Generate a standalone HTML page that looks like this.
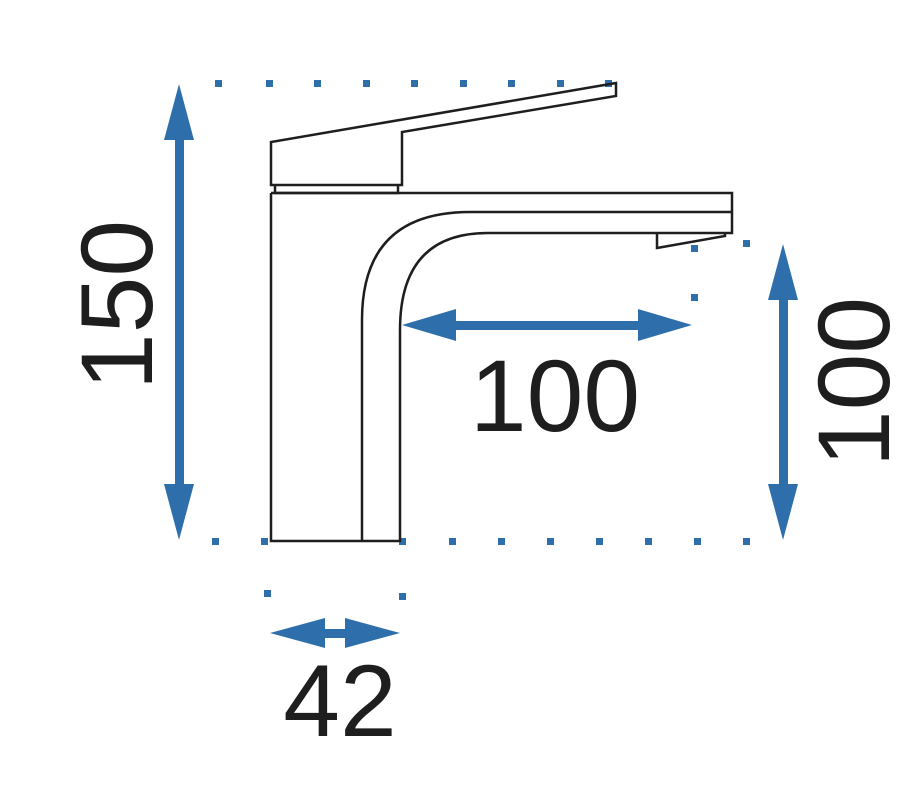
<!DOCTYPE html>
<html><head><style>
body{margin:0;background:#fff;}
svg{display:block}
text{font-family:"Liberation Sans",sans-serif;fill:#1e1e1e;font-size:102px;}
</style></head><body>
<svg width="913" height="801" viewBox="0 0 913 801" xmlns="http://www.w3.org/2000/svg">
<g fill="#2e6fab">
<rect x="215" y="80" width="7" height="7"/><rect x="266" y="80" width="7" height="7"/><rect x="314" y="80" width="7" height="7"/><rect x="363" y="80" width="7" height="7"/><rect x="411" y="80" width="7" height="7"/><rect x="460" y="80" width="7" height="7"/><rect x="508" y="80" width="7" height="7"/><rect x="557" y="80" width="7" height="7"/><rect x="605" y="80" width="7" height="7"/>
<rect x="212" y="538" width="7" height="7"/><rect x="261" y="538" width="7" height="7"/><rect x="399" y="538" width="7" height="7"/><rect x="449" y="538" width="7" height="7"/><rect x="498" y="538" width="7" height="7"/><rect x="547" y="538" width="7" height="7"/><rect x="596" y="538" width="7" height="7"/><rect x="645" y="538" width="7" height="7"/><rect x="694" y="538" width="7" height="7"/><rect x="743" y="538" width="7" height="7"/>
<rect x="264" y="590" width="7" height="7"/><rect x="399" y="593" width="7" height="7"/>
<rect x="691" y="245" width="7" height="7"/><rect x="743" y="240" width="7" height="7"/><rect x="691" y="294" width="7" height="7"/>
<rect x="175" y="130" width="9" height="370"/>
<polygon points="179,84 164,140 194,140"/><polygon points="179,540 164,484 194,484"/>
<rect x="779" y="290" width="9" height="210"/>
<polygon points="783,244 768,300 798,300"/><polygon points="783,540 768,484 798,484"/>
<rect x="450" y="321" width="200" height="9"/>
<polygon points="402,325 456,309 456,341"/><polygon points="692,325 638,309 638,341"/>
<rect x="320" y="629" width="40" height="9"/>
<polygon points="270,633 325,618 325,648"/><polygon points="400,633 345,618 345,648"/>
</g>
<g fill="none" stroke="#1e1e1e" stroke-width="2.5">
<path d="M271,185 V142 L616,83 L616,96 L402,132 V185 Z"/>
<path d="M275,185 V193 H398 V185"/>
<path d="M271,193 V541 H400 V330"/>
<path d="M271,193 H732 V233 H488 Q400,233 400,330"/>
<path d="M362,541 V320 Q362,212 470,212 H732"/>
<path d="M657,233 V248 L725,236 V233"/>
</g>
<text x="0" y="0" text-anchor="middle" transform="translate(152,305) rotate(-90)">150</text>
<text x="0" y="0" text-anchor="middle" transform="translate(889,382) rotate(-90)">100</text>
<text x="555" y="431" text-anchor="middle">100</text>
<text x="340" y="736" text-anchor="middle">42</text>
</svg>
</body></html>
